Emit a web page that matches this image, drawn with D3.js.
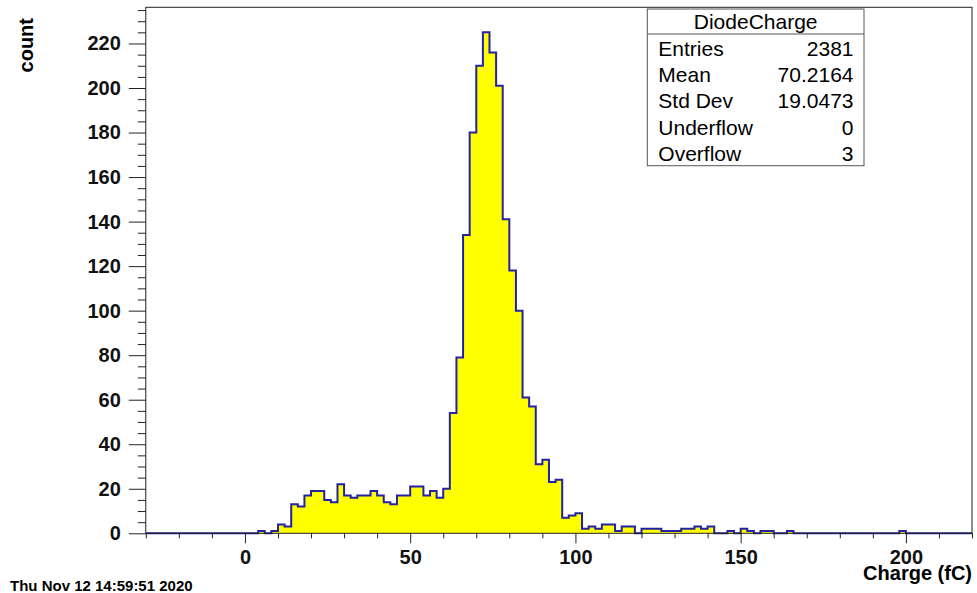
<!DOCTYPE html>
<html>
<head>
<meta charset="utf-8">
<script src="https://cdn.jsdelivr.net/npm/d3@7"></script>
<style>
  body { margin: 0; background: #fff; }
  svg text { font-family: "Liberation Sans", Arial, sans-serif; }
</style>
</head>
<body>
<svg width="977" height="593"></svg>
<script>
// histogram binning: 125 bins of 2 fC from -30 to 220
var histMin = -30;
var histMax = 220;
var binWidth = 2;

// bin contents, first bin is [-30,-28)
var counts = [
  0, 0, 0, 0, 0, 0, 0, 0, 0, 0, 0, 0, 0, 0, 0,
  0, 0, 1, 0, 1, 4, 3, 13, 12, 17,
  19, 19, 15, 14, 22, 17, 16, 17, 17, 19,
  17, 14, 13, 17, 17, 21, 21, 17, 19, 16,
  20, 54, 79, 134, 180, 210, 225, 216, 201, 141,
  118, 100, 61, 57, 31, 33, 23, 24, 7, 8,
  9, 2, 3, 2, 4, 4, 1, 3, 3, 0,
  2, 2, 2, 1, 1, 1, 2, 2, 3, 2,
  3, 0, 0, 1, 0, 2, 1, 0, 1, 1,
  0, 0, 1, 0, 0, 0, 0, 0, 0, 0,
  0, 0, 0, 0, 0, 0, 0, 0, 0, 1,
  0, 0, 0, 0, 0
];

var xMajorTicks = [0, 50, 100, 150, 200];
var yMajorTicks = [0, 20, 40, 60, 80, 100, 120, 140, 160, 180, 200, 220];
var yMax = 236.25;

var statsTitle = 'DiodeCharge';
var statsNames = ['Entries', 'Mean', 'Std Dev', 'Underflow', 'Overflow'];
var statsValues = ['2381', '70.2164', '19.0473', '0', '3'];
var dateText = 'Thu Nov 12 14:59:51 2020';

var svg = d3.select('svg');
var frame = { left: 145.8, right: 972, top: 7.3, bottom: 533.3 };

var x = d3.scaleLinear().domain([histMin, histMax]).range([frame.left, frame.right]);
var y = d3.scaleLinear().domain([0, yMax]).range([frame.bottom, frame.top]);

// step points: one per bin low edge, plus the closing edge
var steps = counts.map(function(c, i) { return { x: histMin + i * binWidth, c: c }; });
steps.push({ x: histMax, c: counts[counts.length - 1] });

var area = d3.area()
  .curve(d3.curveStepAfter)
  .x(function(d) { return x(d.x); })
  .y0(y(0))
  .y1(function(d) { return y(d.c); });

var line = d3.line()
  .curve(d3.curveStepAfter)
  .x(function(d) { return x(d.x); })
  .y(function(d) { return y(d.c); });

svg.append('path')
  .datum(steps)
  .attr('d', area)
  .attr('fill', '#ffff00');

svg.append('path')
  .datum(steps)
  .attr('d', line)
  .attr('fill', 'none')
  .attr('stroke', '#2323a0')
  .attr('stroke-width', 2);

// frame
svg.append('rect')
  .attr('x', frame.left)
  .attr('y', frame.top)
  .attr('width', frame.right - frame.left)
  .attr('height', frame.bottom - frame.top)
  .attr('fill', 'none')
  .attr('stroke', '#222')
  .attr('stroke-width', 1);

///axes///
var xMinor = d3.range(histMin, histMax + 1, 10).filter(function(v) { return xMajorTicks.indexOf(v) < 0; });
var yMinor = d3.range(0, yMax, 5).filter(function(v) { return v % 20 !== 0; });

svg.append('g')
  .attr('transform', 'translate(0,' + frame.bottom + ')')
  .call(d3.axisBottom(x).tickValues(xMinor).tickSize(5).tickFormat(''))
  .call(function(g) { g.select('.domain').remove(); });

svg.append('g')
  .attr('class', 'xaxis')
  .attr('transform', 'translate(0,' + frame.bottom + ')')
  .call(d3.axisBottom(x).tickValues(xMajorTicks).tickSize(10).tickPadding(7).tickSizeOuter(0))
  .call(function(g) { g.select('.domain').remove(); });

svg.append('g')
  .attr('transform', 'translate(' + frame.left + ',0)')
  .call(d3.axisLeft(y).tickValues(yMinor).tickSize(8).tickFormat(''))
  .call(function(g) { g.select('.domain').remove(); });

svg.append('g')
  .attr('class', 'yaxis')
  .attr('transform', 'translate(' + frame.left + ',0)')
  .call(d3.axisLeft(y).tickValues(yMajorTicks).tickSize(17).tickPadding(8).tickSizeOuter(0))
  .call(function(g) { g.select('.domain').remove(); });

svg.selectAll('.tick line').attr('stroke', '#222');
svg.selectAll('.xaxis text, .yaxis text')
  .attr('font-size', 20)
  .attr('font-weight', 'bold')
  .attr('font-family', '"Liberation Sans", Arial, sans-serif')
  .attr('fill', '#111');

// axis titles
svg.append('text')
  .attr('x', 972)
  .attr('y', 580)
  .attr('text-anchor', 'end')
  .attr('font-size', 20)
  .attr('font-weight', 'bold')
  .text('Charge (fC)');

svg.append('text')
  .attr('transform', 'translate(33,18) rotate(-90)')
  .attr('text-anchor', 'end')
  .attr('font-size', 20)
  .attr('font-weight', 'bold')
  .text('count');

svg.append('text')
  .attr('x', 10)
  .attr('y', 591)
  .attr('font-size', 15)
  .attr('font-weight', 'bold')
  .text(dateText);

///stats box///
var box = { x: 647.3, y: 9, w: 216.7, h: 156.7 };
var stats = svg.append('g');

stats.append('rect')
  .attr('x', box.x)
  .attr('y', box.y)
  .attr('width', box.w)
  .attr('height', box.h)
  .attr('fill', '#fff')
  .attr('stroke', '#555');

stats.append('line')
  .attr('x1', box.x).attr('x2', box.x + box.w)
  .attr('y1', 34).attr('y2', 34)
  .attr('stroke', '#555');

stats.append('text')
  .attr('x', box.x + box.w / 2)
  .attr('y', 28.5)
  .attr('text-anchor', 'middle')
  .attr('font-size', 21)
  .text(statsTitle);

stats.selectAll('.sname')
  .data(statsNames)
  .enter().append('text')
  .attr('class', 'sname')
  .attr('x', 658.3)
  .attr('y', function(d, i) { return 55.7 + i * 26.3; })
  .attr('font-size', 21)
  .text(function(d) { return d; });

stats.selectAll('.sval')
  .data(statsValues)
  .enter().append('text')
  .attr('class', 'sval')
  .attr('x', 853.5)
  .attr('y', function(d, i) { return 55.7 + i * 26.3; })
  .attr('text-anchor', 'end')
  .attr('font-size', 21)
  .text(function(d) { return d; });
</script>
</body>
</html>
